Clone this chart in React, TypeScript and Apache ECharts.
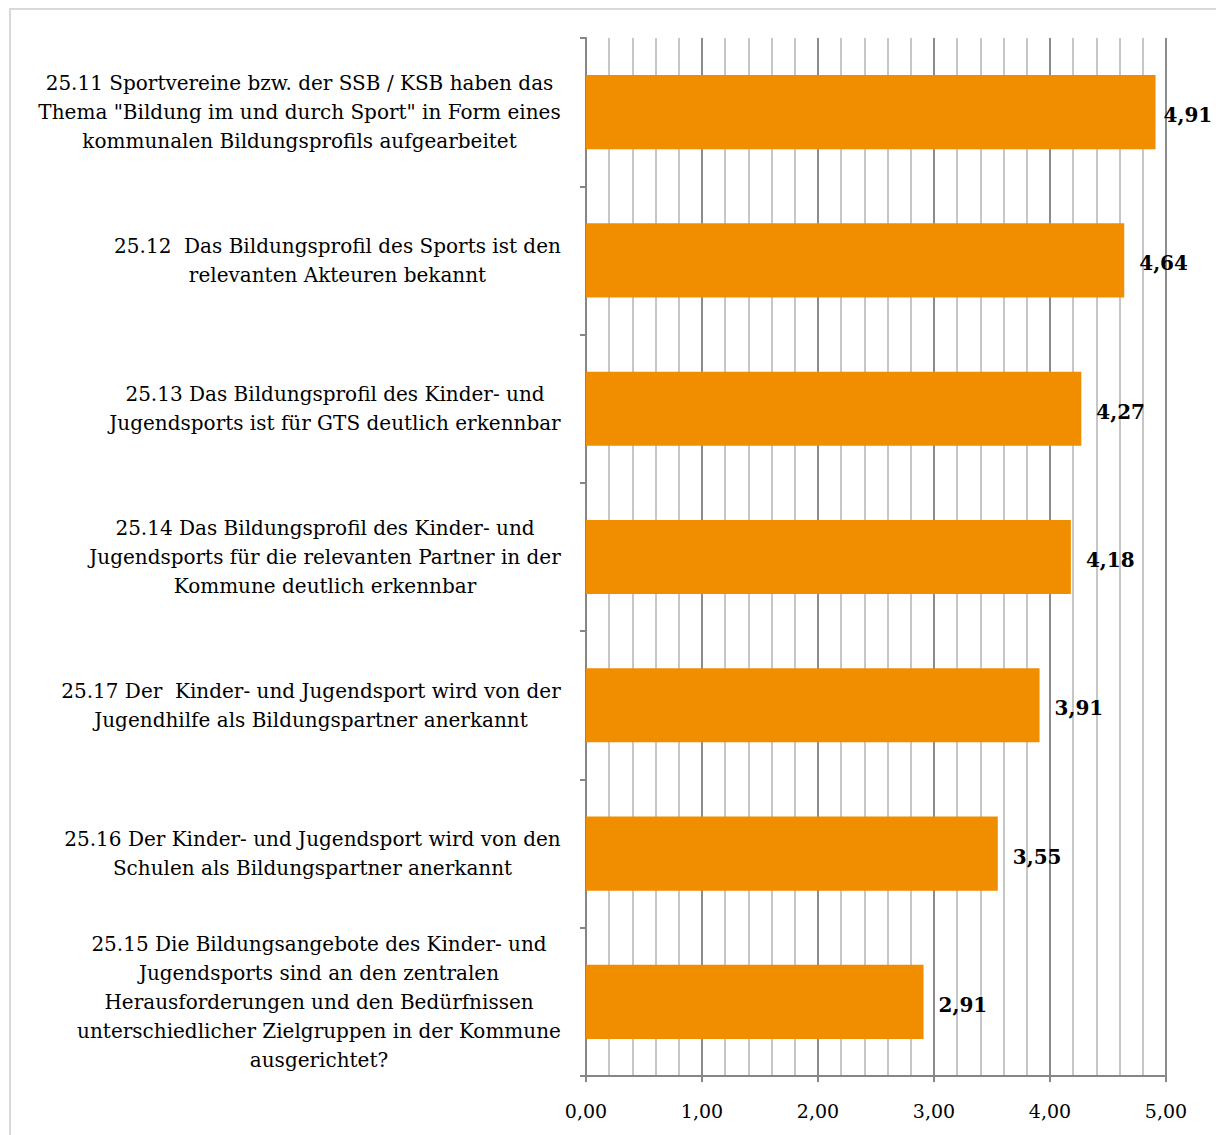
import React, { useEffect, useRef } from "react";
import * as echarts from "echarts";

const categories: string[] = [
  '25.11 Sportvereine bzw. der SSB / KSB haben das\nThema "Bildung im und durch Sport" in Form eines\nkommunalen Bildungsprofils aufgearbeitet',
  "25.12  Das Bildungsprofil des Sports ist den\nrelevanten Akteuren bekannt",
  "25.13 Das Bildungsprofil des Kinder- und\nJugendsports ist für GTS deutlich erkennbar",
  "25.14 Das Bildungsprofil des Kinder- und\nJugendsports für die relevanten Partner in der\nKommune deutlich erkennbar",
  "25.17 Der  Kinder- und Jugendsport wird von der\nJugendhilfe als Bildungspartner anerkannt",
  "25.16 Der Kinder- und Jugendsport wird von den\nSchulen als Bildungspartner anerkannt",
  "25.15 Die Bildungsangebote des Kinder- und\nJugendsports sind an den zentralen\nHerausforderungen und den Bedürfnissen\nunterschiedlicher Zielgruppen in der Kommune\nausgerichtet?",
];
const values: number[] = [4.91, 4.64, 4.27, 4.18, 3.91, 3.55, 2.91];
const xTickLabels: string[] = ["0,00", "1,00", "2,00", "3,00", "4,00", "5,00"];

const FONT = "DejaVu Serif";

export default function App() {
  const ref = useRef<HTMLDivElement>(null);
  useEffect(() => {
    if (!ref.current) return;
    const chart = echarts.init(ref.current, undefined, { renderer: "svg" });
    const ctx = document.createElement("canvas").getContext("2d")!;
    ctx.font = `20px '${FONT}'`;
    const rich: any = {};
    categories.forEach((c, i) => {
      const w = Math.max(...c.split("\n").map((l) => ctx.measureText(l).width));
      rich["c" + i] = {
        width: Math.ceil(w) + 2,
        align: "center",
        fontFamily: FONT,
        fontSize: 20,
        lineHeight: 29,
        color: "#000",
      };
    });
    const barData = values.map((v) =>
      v > 4.8 ? { value: v, label: { distance: 8 } } : v
    );
    chart.setOption({
      animation: false,
      backgroundColor: "#fff",
      graphic: [
        {
          type: "rect",
          shape: { x: 10, y: 9, width: 1300, height: 1300 },
          style: { fill: "none", stroke: "#d9d9d9", lineWidth: 2 },
          silent: true,
        },
      ],
      grid: { left: 586, right: 50, top: 38, bottom: 59, containLabel: false },
      xAxis: {
        type: "value",
        min: 0,
        max: 5,
        interval: 1,
        splitNumber: 5,
        axisLine: { show: true, lineStyle: { color: "#868686", width: 2 } },
        axisTick: { show: true, length: 6, lineStyle: { color: "#868686", width: 2 } },
        axisLabel: {
          margin: 25,
          fontFamily: FONT,
          fontSize: 19,
          color: "#000",
          formatter: (v: number) => xTickLabels[Math.round(v)] ?? "",
        },
        splitLine: { show: true, lineStyle: { color: "#8c8c8c", width: 2 } },
        minorTick: { show: false, splitNumber: 5 },
        minorSplitLine: { show: true, lineStyle: { color: "#c6c6c6", width: 2 } },
      },
      yAxis: {
        type: "category",
        inverse: true,
        data: categories,
        axisLine: { show: true, lineStyle: { color: "#868686", width: 2 } },
        axisTick: { show: true, length: 6, lineStyle: { color: "#868686", width: 2 } },
        axisLabel: {
          interval: 0,
          margin: 24,
          align: "right",
          formatter: (v: string, idx: number) =>
            v
              .split("\n")
              .map((l) => `{c${idx}|${l}}`)
              .join("\n"),
          rich,
        },
        splitLine: { show: false },
      },
      series: [
        {
          type: "bar",
          data: barData,
          barCategoryGap: "50%",
          itemStyle: { color: "#F08E00" },
          label: {
            show: true,
            position: "right",
            distance: 15,
            offset: [0, 3],
            fontFamily: FONT,
            fontSize: 20,
            fontWeight: "bold",
            color: "#000",
            formatter: (p: any) => Number(p.value).toFixed(2).replace(".", ","),
          },
        },
      ],
    });
    return () => chart.dispose();
  }, []);
  return (
    <div
      ref={ref}
      style={{ position: "fixed", left: 0, top: 0, width: 1216, height: 1135 }}
    />
  );
}
